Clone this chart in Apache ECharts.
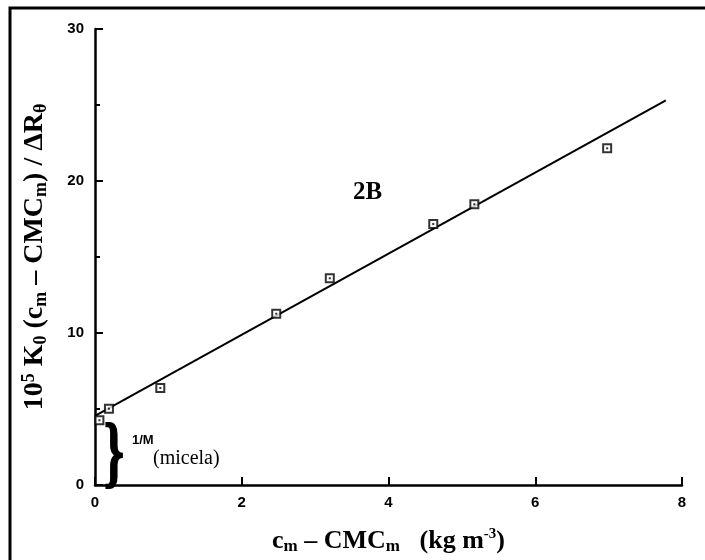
<!DOCTYPE html>
<html>
<head>
<meta charset="utf-8">
<script src="https://cdn.jsdelivr.net/npm/echarts@6/dist/echarts.min.js"></script>
<style>html,body{margin:0;padding:0;background:#fff;}#c{width:705px;height:560px;}</style>
</head>
<body>
<div id="c"></div>
<script>
// Data
var xValues = [0.06, 0.19, 0.89, 2.47, 3.20, 4.61, 5.17, 6.98];
var yValues = [4.26, 5.02, 6.38, 11.27, 13.6, 17.17, 18.47, 22.15];
var fitX = [0, 7.78];
var fitY = [4.55, 25.3];
var xTicks = [0, 2, 4, 6, 8];
var yTicks = [0, 10, 20, 30];

var points = xValues.map(function (x, i) { return [x, yValues[i]]; });
var fit = fitX.map(function (x, i) { return [x, fitY[i]]; });

var chart = echarts.init(document.getElementById('c'));
var serifB = {fontFamily: '"Liberation Serif","Times New Roman",serif', fontWeight: 'bold', color: '#000'};
function rs(o){ return Object.assign({}, serifB, o); }

chart.setOption({
  animation: false,
  backgroundColor: '#fff',
  grid: {left: 95, right: 23, top: 29, bottom: 75},
  xAxis: {
    type: 'value', min: xTicks[0], max: xTicks[xTicks.length-1], interval: 2,
    axisLine: {lineStyle: {color: '#000', width: 2.5}},
    axisTick: {inside: true, length: 8, lineStyle: {color: '#000', width: 2}},
    axisLabel: {margin: 10, color: '#000', fontSize: 15, fontWeight: 'bold', fontFamily: '"Liberation Sans",Arial,sans-serif'},
    splitLine: {show: false},
    name: '{m|c}{s|m}{m| – CMC}{s|m}{m|   (kg m}{p|-3}{m|)}',
    nameLocation: 'middle', nameGap: 42,
    nameTextStyle: {
      rich: {
        m: rs({fontSize: 26, lineHeight: 28, verticalAlign: 'middle'}),
        s: rs({fontSize: 17, lineHeight: 16, verticalAlign: 'bottom'}),
        p: rs({fontSize: 15, lineHeight: 15, verticalAlign: 'top'})
      }
    }
  },
  yAxis: {
    type: 'value', min: yTicks[0], max: yTicks[yTicks.length-1], interval: 10,
    axisLine: {show: true, lineStyle: {color: '#000', width: 2.5}},
    axisTick: {show: true, inside: true, length: 8, lineStyle: {color: '#000', width: 2}},
    minorTick: {show: true, splitNumber: 2, length: 5, lineStyle: {color: '#000', width: 2}},
    axisLabel: {margin: 11, color: '#000', fontSize: 15, fontWeight: 'bold', fontFamily: '"Liberation Sans",Arial,sans-serif'},
    splitLine: {show: false},
    name: '{m|10}{p|5}{m| K}{s|0}{m| (c}{s|m}{m| – CMC}{s|m}{m|) / ΔR}{s|θ}',
    nameLocation: 'middle', nameRotate: 90, nameGap: 45,
    nameTextStyle: {
      rich: {
        m: rs({fontSize: 28, lineHeight: 30, verticalAlign: 'middle'}),
        s: rs({fontSize: 18, lineHeight: 17, verticalAlign: 'bottom'}),
        p: rs({fontSize: 18, lineHeight: 17, verticalAlign: 'top'})
      }
    }
  },
  series: [
    {
      type: 'line', data: fit, symbol: 'none',
      lineStyle: {color: '#000', width: 2}, z: 2
    },
    {
      type: 'scatter', data: points, symbol: 'rect', symbolSize: 8,
      itemStyle: {color: '#fff', borderColor: '#000', borderWidth: 2}, z: 3
    },
    {
      type: 'scatter', data: points, symbol: 'rect', symbolSize: 2,
      itemStyle: {color: '#000'}, z: 4
    }
  ],
  graphic: [
    {type: 'polyline', shape: {points: [[10, 560], [10, 8], [705, 8]]}, style: {stroke: '#000', lineWidth: 3, fill: null}},
    {type: 'text', left: 353, top: 180, style: {text: '2B', font: 'bold 25px "Liberation Serif", serif', fill: '#000'}},
    {type: 'text', x: 104, y: 418, scaleX: 1.15, scaleY: 1.78,
      style: {text: '}', font: 'bold 44px "Liberation Serif", serif', fill: '#000', stroke: '#000', lineWidth: 1}},
    {type: 'text', left: 132, top: 434, style: {text: '1/M', font: 'bold 13px "Liberation Sans", Arial, sans-serif', fill: '#000'}},
    {type: 'text', left: 153, top: 449, style: {text: '(micela)', font: '20px "Liberation Serif", serif', fill: '#000'}}
  ]
});
</script>
</body>
</html>
